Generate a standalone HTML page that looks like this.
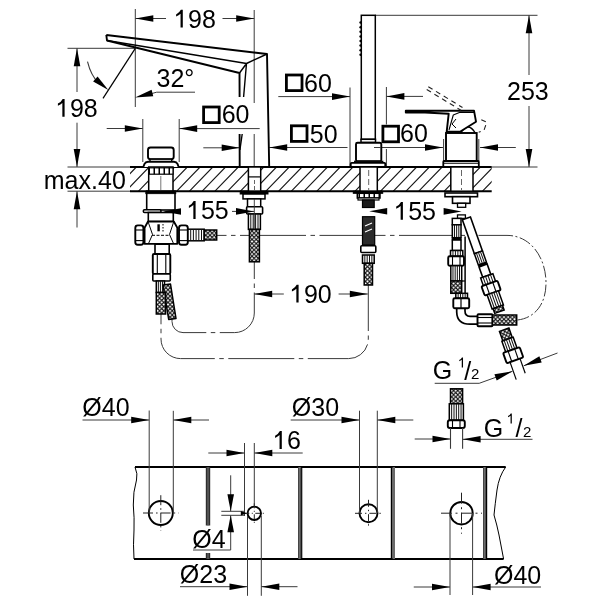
<!DOCTYPE html>
<html><head><meta charset="utf-8"><style>
html,body{margin:0;padding:0;background:#fff;width:600px;height:600px;overflow:hidden}
svg{display:block;will-change:transform}
text{font-family:"Liberation Sans",sans-serif;fill:#000}
</style></head><body>
<svg width="600" height="600" viewBox="0 0 600 600">
<defs>
<pattern id="braid" width="4.2" height="4.2" patternUnits="userSpaceOnUse">
<rect width="4.2" height="4.2" fill="#fff"/>
<path d="M-1,-1 L5.2,5.2 M5.2,-1 L-1,5.2" stroke="#111" stroke-width="1.05"/>
</pattern>
<pattern id="thread" width="5" height="5" patternUnits="userSpaceOnUse">
<rect width="5" height="5" fill="#fff"/>
<rect x="3.5" width="1.5" height="5" fill="#000"/>
</pattern>
</defs>
<line x1="135.30" y1="9.00" x2="135.30" y2="107.00" stroke="#3a3a3a" stroke-width="1.0" />
<line x1="254.20" y1="10.00" x2="254.20" y2="103.00" stroke="#3a3a3a" stroke-width="1.0" />
<line x1="254.20" y1="134.00" x2="254.20" y2="167.00" stroke="#3a3a3a" stroke-width="1.0" />
<line x1="135.30" y1="18.50" x2="166.00" y2="18.50" stroke="#3a3a3a" stroke-width="1.0" />
<path d="M135.30,18.50 L153.30,15.20 L153.30,21.80 Z" fill="#000"/>
<line x1="222.50" y1="18.50" x2="254.20" y2="18.50" stroke="#3a3a3a" stroke-width="1.0" />
<path d="M254.20,18.50 L236.20,21.80 L236.20,15.20 Z" fill="#000"/>
<text x="174.20" y="27.60" font-size="25"><tspan fill="transparent">1</tspan>98</text>
<path d="M8.6,-17.9 L8.6,0 L6.35,0 L6.35,-13.9 Q4.6,-12.2 1.9,-11.1 L1.9,-13.2 Q5.2,-14.9 6.7,-17.9 Z" fill="#000" transform="translate(174.20,27.60) scale(1.000)"/>
<line x1="67.50" y1="48.30" x2="135.30" y2="48.30" stroke="#3a3a3a" stroke-width="1.0" />
<line x1="77.00" y1="48.30" x2="77.00" y2="92.00" stroke="#3a3a3a" stroke-width="1.0" />
<path d="M77.00,48.30 L80.30,66.30 L73.70,66.30 Z" fill="#000"/>
<text x="56.00" y="116.80" font-size="25"><tspan fill="transparent">1</tspan>98</text>
<path d="M8.6,-17.9 L8.6,0 L6.35,0 L6.35,-13.9 Q4.6,-12.2 1.9,-11.1 L1.9,-13.2 Q5.2,-14.9 6.7,-17.9 Z" fill="#000" transform="translate(56.00,116.80) scale(1.000)"/>
<line x1="77.00" y1="122.70" x2="77.00" y2="167.00" stroke="#3a3a3a" stroke-width="1.0" />
<path d="M77.00,167.00 L73.70,149.00 L80.30,149.00 Z" fill="#000"/>
<line x1="67.50" y1="167.00" x2="131.00" y2="167.00" stroke="#3a3a3a" stroke-width="1.0" />
<line x1="67.50" y1="191.20" x2="131.00" y2="191.20" stroke="#3a3a3a" stroke-width="1.0" />
<line x1="77.00" y1="191.20" x2="77.00" y2="227.50" stroke="#3a3a3a" stroke-width="1.0" />
<path d="M77.00,191.20 L80.30,209.20 L73.70,209.20 Z" fill="#000"/>
<text x="43.80" y="188.80" font-size="25">max.40</text>
<line x1="135.30" y1="48.30" x2="103.00" y2="98.30" stroke="#000" stroke-width="1.2" />
<path d="M87.5,61.7 Q91,76 99,83.5" stroke="#3a3a3a" stroke-width="1.1" fill="none" stroke-linejoin="round" />
<path d="M108.30,90.00 L93.15,81.58 L97.55,76.40 Z" fill="#000"/>
<line x1="156.70" y1="92.20" x2="195.00" y2="92.20" stroke="#3a3a3a" stroke-width="1.0" />
<line x1="156.70" y1="92.20" x2="150.00" y2="94.00" stroke="#3a3a3a" stroke-width="1.0" />
<path d="M135.00,97.50 L151.59,89.78 L153.25,96.16 Z" fill="#000"/>
<text x="156.50" y="86.70" font-size="25">32°</text>
<line x1="142.80" y1="119.00" x2="142.80" y2="162.00" stroke="#3a3a3a" stroke-width="1.0" />
<line x1="179.20" y1="119.00" x2="179.20" y2="162.00" stroke="#3a3a3a" stroke-width="1.0" />
<line x1="106.70" y1="128.50" x2="142.80" y2="128.50" stroke="#3a3a3a" stroke-width="1.0" />
<path d="M142.80,128.50 L124.80,131.80 L124.80,125.20 Z" fill="#000"/>
<line x1="179.20" y1="128.60" x2="259.70" y2="128.60" stroke="#3a3a3a" stroke-width="1.0" />
<path d="M179.20,128.60 L197.20,125.30 L197.20,131.90 Z" fill="#000"/>
<rect x="203.60" y="107.00" width="15.60" height="15.60" rx="0" stroke="#000" stroke-width="2.8" fill="none" />
<text x="221.70" y="123.40" font-size="25">60</text>
<line x1="203.30" y1="147.80" x2="239.70" y2="147.80" stroke="#3a3a3a" stroke-width="1.0" />
<path d="M239.70,147.80 L221.70,151.10 L221.70,144.50 Z" fill="#000"/>
<line x1="269.20" y1="147.50" x2="347.50" y2="147.50" stroke="#3a3a3a" stroke-width="1.0" />
<path d="M269.20,147.50 L287.20,144.20 L287.20,150.80 Z" fill="#000"/>
<rect x="291.40" y="125.80" width="15.60" height="15.60" rx="0" stroke="#000" stroke-width="2.8" fill="none" />
<text x="309.80" y="142.50" font-size="25">50</text>
<line x1="350.00" y1="87.50" x2="350.00" y2="167.00" stroke="#3a3a3a" stroke-width="1.0" />
<line x1="386.40" y1="87.00" x2="386.40" y2="124.50" stroke="#3a3a3a" stroke-width="1.0" />
<line x1="386.40" y1="149.00" x2="386.40" y2="167.00" stroke="#3a3a3a" stroke-width="1.0" />
<line x1="278.30" y1="96.60" x2="350.00" y2="96.60" stroke="#3a3a3a" stroke-width="1.0" />
<path d="M350.00,96.60 L332.00,99.90 L332.00,93.30 Z" fill="#000"/>
<line x1="386.40" y1="96.40" x2="423.00" y2="96.40" stroke="#3a3a3a" stroke-width="1.0" />
<path d="M386.40,96.40 L404.40,93.10 L404.40,99.70 Z" fill="#000"/>
<rect x="286.40" y="75.00" width="15.60" height="15.60" rx="0" stroke="#000" stroke-width="2.8" fill="none" />
<text x="304.00" y="91.50" font-size="25">60</text>
<line x1="376.00" y1="147.50" x2="443.00" y2="147.50" stroke="#3a3a3a" stroke-width="1.0" />
<path d="M443.00,147.50 L425.00,150.80 L425.00,144.20 Z" fill="#000"/>
<line x1="480.00" y1="147.50" x2="515.80" y2="147.50" stroke="#3a3a3a" stroke-width="1.0" />
<path d="M480.00,147.50 L498.00,144.20 L498.00,150.80 Z" fill="#000"/>
<rect x="382.90" y="126.20" width="15.60" height="15.60" rx="0" stroke="#000" stroke-width="2.8" fill="none" />
<text x="400.00" y="142.40" font-size="25">60</text>
<line x1="375.00" y1="15.30" x2="537.50" y2="15.30" stroke="#3a3a3a" stroke-width="1.0" />
<line x1="529.00" y1="15.30" x2="529.00" y2="75.00" stroke="#3a3a3a" stroke-width="1.0" />
<path d="M529.00,15.30 L532.30,33.30 L525.70,33.30 Z" fill="#000"/>
<text x="507.00" y="100.20" font-size="25">253</text>
<line x1="529.00" y1="106.00" x2="529.00" y2="167.00" stroke="#3a3a3a" stroke-width="1.0" />
<path d="M529.00,167.00 L525.70,149.00 L532.30,149.00 Z" fill="#000"/>
<line x1="491.70" y1="167.00" x2="537.50" y2="167.00" stroke="#3a3a3a" stroke-width="1.0" />
<text x="187.00" y="219.00" font-size="25"><tspan fill="transparent">1</tspan>55</text>
<path d="M8.6,-17.9 L8.6,0 L6.35,0 L6.35,-13.9 Q4.6,-12.2 1.9,-11.1 L1.9,-13.2 Q5.2,-14.9 6.7,-17.9 Z" fill="#000" transform="translate(187.00,219.00) scale(1.000)"/>
<text x="394.30" y="219.80" font-size="25"><tspan fill="transparent">1</tspan>55</text>
<path d="M8.6,-17.9 L8.6,0 L6.35,0 L6.35,-13.9 Q4.6,-12.2 1.9,-11.1 L1.9,-13.2 Q5.2,-14.9 6.7,-17.9 Z" fill="#000" transform="translate(394.30,219.80) scale(1.000)"/>
<line x1="254.20" y1="294.00" x2="283.80" y2="294.00" stroke="#3a3a3a" stroke-width="1.0" />
<path d="M254.20,294.00 L272.20,290.70 L272.20,297.30 Z" fill="#000"/>
<text x="290.00" y="302.60" font-size="25"><tspan fill="transparent">1</tspan>90</text>
<path d="M8.6,-17.9 L8.6,0 L6.35,0 L6.35,-13.9 Q4.6,-12.2 1.9,-11.1 L1.9,-13.2 Q5.2,-14.9 6.7,-17.9 Z" fill="#000" transform="translate(290.00,302.60) scale(1.000)"/>
<line x1="338.60" y1="294.00" x2="367.80" y2="294.00" stroke="#3a3a3a" stroke-width="1.0" />
<path d="M367.80,294.00 L349.80,297.30 L349.80,290.70 Z" fill="#000"/>
<path d="M216.7,235.4 L507,235.4" stroke="#3a3a3a" stroke-width="1.0" fill="none" stroke-dasharray="66,4.5,4.5,4.5" stroke-dashoffset="56.2"/>
<path d="M507,235.4 C531,235.4 546,258 546,283 C546,304 535,318 517.5,320" stroke="#3a3a3a" stroke-width="1.0" fill="none" stroke-dasharray="12,2.5,2,2.5" stroke-dashoffset="6"/>
<path d="M254.3,262 L254.3,313 A19.6,19.6 0 0 1 234.7,332.6 L183,332.6 A11,11 0 0 1 172,321.6 L172,319" stroke="#3a3a3a" stroke-width="1.0" fill="none" stroke-dasharray="66,4.5,4.5,4.5" stroke-dashoffset="49"/>
<path d="M368.3,285 L368.3,339 A19.6,19.6 0 0 1 348.7,358.6 L180.6,358.6 A19.6,19.6 0 0 1 161,339 L161,314" stroke="#3a3a3a" stroke-width="1.0" fill="none" stroke-dasharray="66,4.5,4.5,4.5" stroke-dashoffset="20"/>
<clipPath id="deckclip"><rect x="130" y="167" width="361.7" height="24.2"/></clipPath>
<path d="M100.31,191.2 L123.61,167 M113.05,191.2 L136.35,167 M125.79,191.2 L149.09,167 M138.53,191.2 L161.83,167 M151.27,191.2 L174.57,167 M164.01,191.2 L187.31,167 M176.75,191.2 L200.05,167 M189.49,191.2 L212.79,167 M202.23,191.2 L225.53,167 M214.97,191.2 L238.27,167 M227.71,191.2 L251.01,167 M240.45,191.2 L263.75,167 M253.19,191.2 L276.49,167 M265.93,191.2 L289.23,167 M278.67,191.2 L301.97,167 M291.41,191.2 L314.71,167 M304.15,191.2 L327.45,167 M316.89,191.2 L340.19,167 M329.63,191.2 L352.93,167 M342.37,191.2 L365.67,167 M355.11,191.2 L378.41,167 M367.85,191.2 L391.15,167 M380.59,191.2 L403.89,167 M393.33,191.2 L416.63,167 M406.07,191.2 L429.37,167 M418.81,191.2 L442.11,167 M431.55,191.2 L454.85,167 M444.29,191.2 L467.59,167 M457.03,191.2 L480.33,167 M469.77,191.2 L493.07,167 M482.51,191.2 L505.81,167 M495.25,191.2 L518.55,167 M507.99,191.2 L531.29,167 M520.73,191.2 L544.03,167 M533.47,191.2 L556.77,167 M546.21,191.2 L569.51,167" stroke="#1a1a1a" stroke-width="1.15" clip-path="url(#deckclip)"/>
<line x1="130.00" y1="167.00" x2="491.70" y2="167.00" stroke="#000" stroke-width="1.9" />
<line x1="130.00" y1="191.20" x2="491.70" y2="191.20" stroke="#000" stroke-width="1.9" />
<path d="M106.3,35 L267,54 L269.2,167 M239.7,167 L239.6,134 M239.6,97 L239.5,73 L107,40.5 L106.3,35" stroke="#000" stroke-width="1.9" fill="none" stroke-linejoin="round" />
<path d="M107,40.5 L246.5,63.5 L267,54 M239.5,73 L246.5,63.5 L243.6,97 M242.2,134 L239.9,150" stroke="#000" stroke-width="1.4" fill="none" stroke-linejoin="round" />
<rect x="248.40" y="167.00" width="12.30" height="24.20" rx="0" stroke="#000" stroke-width="1.5" fill="#fff" />
<line x1="248.40" y1="176.90" x2="260.70" y2="176.90" stroke="#000" stroke-width="1.2" />
<line x1="254.50" y1="180.00" x2="254.50" y2="190.00" stroke="#666" stroke-width="1" stroke-dasharray="4,2"/>
<rect x="240.20" y="191.20" width="27.80" height="2.80" rx="0" stroke="#000" stroke-width="1.0" fill="#000" />
<rect x="243.00" y="194.00" width="22.00" height="4.90" rx="0" stroke="#000" stroke-width="1.5" fill="#fff" />
<rect x="247.50" y="198.90" width="13.20" height="7.90" rx="0" stroke="#000" stroke-width="1.5" fill="#fff" />
<rect x="246.60" y="206.80" width="16.00" height="7.20" rx="1" stroke="#000" stroke-width="1.6" fill="#fff" />
<rect x="248.40" y="214.00" width="12.00" height="15.40" rx="0" stroke="#000" stroke-width="1.5" fill="#fff" />
<line x1="250.80" y1="214.00" x2="250.80" y2="229.40" stroke="#111" stroke-width="1.0" />
<line x1="253.20" y1="214.00" x2="253.20" y2="229.40" stroke="#111" stroke-width="1.0" />
<line x1="255.60" y1="214.00" x2="255.60" y2="229.40" stroke="#111" stroke-width="1.0" />
<line x1="258.00" y1="214.00" x2="258.00" y2="229.40" stroke="#111" stroke-width="1.0" />
<rect x="249.40" y="229.40" width="10.00" height="32.40" rx="0" stroke="#000" stroke-width="1.5" fill="url(#braid)" />
<rect x="148.00" y="147.50" width="25.70" height="11.70" rx="2.5" stroke="#000" stroke-width="1.9" fill="#fff" />
<rect x="150.00" y="159.20" width="21.70" height="2.50" rx="0" stroke="#000" stroke-width="1.4" fill="#fff" />
<path d="M143.3,167 L144.5,163.8 Q145.5,161.7 148,161.7 L174,161.7 Q176.5,161.7 177.5,163.8 L178.7,167" stroke="#000" stroke-width="1.9" fill="#fff" stroke-linejoin="round" />
<rect x="148.70" y="167.00" width="24.30" height="24.20" rx="0" stroke="#000" stroke-width="1.5" fill="#fff" />
<rect x="148.70" y="167.80" width="24.30" height="6.40" rx="0" stroke="#000" stroke-width="1.2" fill="url(#thread)" />
<line x1="160.80" y1="176.00" x2="160.80" y2="250.00" stroke="#777" stroke-width="1" />
<rect x="146.70" y="191.20" width="28.30" height="18.80" rx="0" stroke="#000" stroke-width="1.6" fill="#fff" />
<rect x="145.80" y="191.20" width="30.00" height="2.50" rx="0" stroke="#000" stroke-width="0.8" fill="#000" />
<rect x="143.30" y="209.70" width="17.70" height="2.80" rx="1.2" stroke="#000" stroke-width="1.5" fill="#fff" />
<rect x="148.30" y="212.50" width="25.00" height="9.20" rx="0" stroke="#000" stroke-width="1.6" fill="#fff" />
<path d="M148,221.5 L173.8,221.5 L177.3,227.7 L177.3,243.8 L144.6,243.8 L144.6,227.7 Z" stroke="#000" stroke-width="1.8" fill="#fff" stroke-linejoin="round" />
<path d="M148,221.5 L152.5,234.5 L148.5,243.5 M173.8,221.5 L169.5,234.5 L173.5,243.5" stroke="#000" stroke-width="1.0" fill="none" stroke-linejoin="round" />
<line x1="152.00" y1="235.30" x2="170.00" y2="235.30" stroke="#000" stroke-width="1.0" stroke-dasharray="3,1.5"/>
<rect x="157.40" y="224.30" width="2.40" height="7.00" rx="0" stroke="#000" stroke-width="0" fill="#000" />
<line x1="163.00" y1="224.00" x2="163.00" y2="232.00" stroke="#000" stroke-width="1" stroke-dasharray="1.5,1.5"/>
<rect x="135.30" y="225.40" width="8.10" height="19.30" rx="2.5" stroke="#000" stroke-width="1.9" fill="#fff" />
<line x1="135.30" y1="230.00" x2="143.40" y2="230.00" stroke="#000" stroke-width="1.1" />
<line x1="135.30" y1="240.60" x2="143.40" y2="240.60" stroke="#000" stroke-width="1.1" />
<rect x="179.00" y="225.40" width="8.80" height="19.30" rx="2.5" stroke="#000" stroke-width="1.9" fill="#fff" />
<line x1="179.00" y1="230.00" x2="187.80" y2="230.00" stroke="#000" stroke-width="1.1" />
<line x1="179.00" y1="240.60" x2="187.80" y2="240.60" stroke="#000" stroke-width="1.1" />
<rect x="188.00" y="229.20" width="16.20" height="11.60" rx="0" stroke="#000" stroke-width="1.5" fill="#fff" />
<line x1="190.70" y1="229.20" x2="190.70" y2="240.80" stroke="#111" stroke-width="1.0" />
<line x1="193.40" y1="229.20" x2="193.40" y2="240.80" stroke="#111" stroke-width="1.0" />
<line x1="196.10" y1="229.20" x2="196.10" y2="240.80" stroke="#111" stroke-width="1.0" />
<line x1="198.80" y1="229.20" x2="198.80" y2="240.80" stroke="#111" stroke-width="1.0" />
<line x1="201.50" y1="229.20" x2="201.50" y2="240.80" stroke="#111" stroke-width="1.0" />
<rect x="204.20" y="230.00" width="12.50" height="10.00" rx="0" stroke="#000" stroke-width="1.5" fill="url(#braid)" />
<rect x="155.00" y="244.20" width="14.20" height="9.80" rx="0" stroke="#000" stroke-width="1.6" fill="#fff" />
<rect x="152.80" y="254.00" width="17.50" height="20.00" rx="1.2" stroke="#000" stroke-width="1.9" fill="#fff" />
<line x1="157.30" y1="254.00" x2="157.30" y2="274.00" stroke="#000" stroke-width="1.1" />
<line x1="165.80" y1="254.00" x2="165.80" y2="274.00" stroke="#000" stroke-width="1.1" />
<rect x="152.80" y="274.00" width="17.50" height="7.00" rx="1" stroke="#000" stroke-width="1.6" fill="#fff" />
<rect x="156.30" y="281.00" width="8.20" height="11.50" rx="0" stroke="#000" stroke-width="1.5" fill="#fff" />
<line x1="158.35" y1="281.00" x2="158.35" y2="292.50" stroke="#111" stroke-width="1.0" />
<line x1="160.40" y1="281.00" x2="160.40" y2="292.50" stroke="#111" stroke-width="1.0" />
<line x1="162.45" y1="281.00" x2="162.45" y2="292.50" stroke="#111" stroke-width="1.0" />
<path d="M163.00,285.00 L170.50,284.00 L176.00,318.50 L168.70,319.50 Z" stroke="#000" stroke-width="1.5" fill="url(#braid)" stroke-linejoin="round" />
<rect x="156.30" y="292.50" width="9.30" height="21.50" rx="0" stroke="#000" stroke-width="1.5" fill="url(#braid)" />
<rect x="361.30" y="15.30" width="14.00" height="124.00" rx="0" stroke="#000" stroke-width="1.5" fill="#fff" />
<circle cx="360.6" cy="22.60" r="1.25" fill="#000"/>
<circle cx="360.6" cy="27.20" r="1.25" fill="#000"/>
<circle cx="360.6" cy="31.80" r="1.25" fill="#000"/>
<circle cx="360.6" cy="36.40" r="1.25" fill="#000"/>
<circle cx="360.6" cy="41.00" r="1.25" fill="#000"/>
<circle cx="360.6" cy="45.60" r="1.25" fill="#000"/>
<circle cx="360.6" cy="50.20" r="1.25" fill="#000"/>
<circle cx="360.6" cy="54.80" r="1.25" fill="#000"/>
<rect x="361.00" y="139.30" width="14.50" height="3.20" rx="0" stroke="#000" stroke-width="1.5" fill="#fff" />
<rect x="356.00" y="142.70" width="25.30" height="18.60" rx="1.5" stroke="#000" stroke-width="1.9" fill="#fff" />
<line x1="374.00" y1="147.50" x2="381.00" y2="147.50" stroke="#3a3a3a" stroke-width="1.0" />
<rect x="354.70" y="161.30" width="28.00" height="1.60" rx="0" stroke="#000" stroke-width="1.3" fill="#fff" />
<rect x="350.70" y="162.90" width="34.60" height="4.10" rx="1" stroke="#000" stroke-width="1.9" fill="#fff" />
<rect x="360.00" y="167.00" width="17.30" height="24.20" rx="0" stroke="#000" stroke-width="1.5" fill="#fff" />
<line x1="368.70" y1="170.00" x2="368.70" y2="190.00" stroke="#666" stroke-width="1" stroke-dasharray="6,3"/>
<rect x="353.30" y="191.20" width="29.40" height="2.10" rx="0" stroke="#000" stroke-width="1.0" fill="#000" />
<rect x="357.30" y="193.30" width="22.70" height="4.70" rx="0" stroke="#000" stroke-width="1.5" fill="url(#thread)" />
<rect x="358.00" y="198.00" width="21.00" height="2.00" rx="0" stroke="#000" stroke-width="1.2" fill="#fff" />
<rect x="362.50" y="200.00" width="11.70" height="7.50" rx="0" stroke="#000" stroke-width="1.2" fill="#1a1a1a" />
<rect x="362.50" y="216.70" width="12.20" height="28.30" rx="0" stroke="#000" stroke-width="1.2" fill="#2a2a2a" />
<path d="M365,226 L372,223 M365,232 L372,229" stroke="#fff" stroke-width="1.1" fill="none" stroke-linejoin="round" />
<rect x="360.80" y="245.80" width="15.00" height="6.70" rx="1" stroke="#000" stroke-width="1.6" fill="#fff" />
<rect x="362.50" y="255.00" width="11.70" height="8.30" rx="0" stroke="#000" stroke-width="1.5" fill="#fff" />
<line x1="364.84" y1="255.00" x2="364.84" y2="263.30" stroke="#111" stroke-width="1.0" />
<line x1="367.18" y1="255.00" x2="367.18" y2="263.30" stroke="#111" stroke-width="1.0" />
<line x1="369.52" y1="255.00" x2="369.52" y2="263.30" stroke="#111" stroke-width="1.0" />
<line x1="371.86" y1="255.00" x2="371.86" y2="263.30" stroke="#111" stroke-width="1.0" />
<rect x="364.20" y="263.30" width="8.30" height="21.70" rx="0" stroke="#000" stroke-width="1.5" fill="url(#braid)" />
<rect x="446.00" y="133.00" width="30.70" height="28.00" rx="0" stroke="#000" stroke-width="1.9" fill="#fff" />
<line x1="443.60" y1="139.00" x2="443.60" y2="161.00" stroke="#3a3a3a" stroke-width="1.0" />
<line x1="478.80" y1="139.00" x2="478.80" y2="161.00" stroke="#3a3a3a" stroke-width="1.0" />
<rect x="443.30" y="161.00" width="35.50" height="6.00" rx="0.8" stroke="#000" stroke-width="1.8" fill="#fff" />
<line x1="444.00" y1="163.30" x2="478.00" y2="163.30" stroke="#000" stroke-width="1.1" />
<path d="M460.7,133 Q468,121 475.3,133" stroke="#000" stroke-width="1.3" fill="none" stroke-linejoin="round" />
<path d="M405.80,110.70 L474.00,110.70 L476.00,121.70 L460.00,131.70 L446.70,131.70 L448.70,113.70 L425.00,112.50 L405.80,112.60 Z" stroke="#000" stroke-width="1.9" fill="#fff" stroke-linejoin="round" />
<path d="M449,130 L453.3,115 L460,112.3 L474,112.5" stroke="#000" stroke-width="1.1" fill="none" stroke-linejoin="round" />
<line x1="452.00" y1="124.00" x2="456.00" y2="128.00" stroke="#000" stroke-width="1.0" />
<line x1="452.00" y1="124.00" x2="456.00" y2="119.00" stroke="#000" stroke-width="1.0" />
<path d="M428.3,86.7 L462.5,107.5 M426.7,89.5 L461,110.3 M481.3,119.7 L486.7,122.3 L484,130.3 L478.7,132.3" stroke="#222" stroke-width="1.1" fill="none" stroke-dasharray="5,4"/>
<rect x="450.80" y="167.00" width="22.20" height="24.20" rx="0" stroke="#000" stroke-width="1.5" fill="#fff" />
<line x1="461.50" y1="170.00" x2="461.50" y2="190.00" stroke="#666" stroke-width="1" stroke-dasharray="6,3"/>
<rect x="445.00" y="193.00" width="32.50" height="3.70" rx="0" stroke="#000" stroke-width="1.6" fill="#fff" />
<rect x="452.50" y="196.70" width="17.50" height="6.60" rx="0" stroke="#000" stroke-width="1.6" fill="#fff" />
<rect x="457.50" y="203.30" width="8.20" height="4.00" rx="0" stroke="#000" stroke-width="1.3" fill="#fff" />
<rect x="457.50" y="214.90" width="7.90" height="3.50" rx="0" stroke="#000" stroke-width="1.3" fill="#fff" />
<rect x="452.30" y="218.40" width="8.70" height="6.40" rx="0" stroke="#000" stroke-width="1.5" fill="#fff" />
<rect x="452.30" y="224.80" width="8.70" height="12.90" rx="0" stroke="#000" stroke-width="1.5" fill="#fff" />
<line x1="454.48" y1="224.80" x2="454.48" y2="237.70" stroke="#111" stroke-width="1.0" />
<line x1="456.65" y1="224.80" x2="456.65" y2="237.70" stroke="#111" stroke-width="1.0" />
<line x1="458.82" y1="224.80" x2="458.82" y2="237.70" stroke="#111" stroke-width="1.0" />
<rect x="452.30" y="237.70" width="8.70" height="2.30" rx="0" stroke="#000" stroke-width="1.0" fill="#000" />
<rect x="452.30" y="240.00" width="8.70" height="10.50" rx="0" stroke="#000" stroke-width="1.5" fill="#fff" />
<rect x="450.50" y="250.50" width="12.30" height="5.80" rx="0" stroke="#000" stroke-width="1.5" fill="#fff" />
<line x1="452.96" y1="250.50" x2="452.96" y2="256.30" stroke="#111" stroke-width="1.0" />
<line x1="455.42" y1="250.50" x2="455.42" y2="256.30" stroke="#111" stroke-width="1.0" />
<line x1="457.88" y1="250.50" x2="457.88" y2="256.30" stroke="#111" stroke-width="1.0" />
<line x1="460.34" y1="250.50" x2="460.34" y2="256.30" stroke="#111" stroke-width="1.0" />
<rect x="448.20" y="256.30" width="15.80" height="9.40" rx="1.5" stroke="#000" stroke-width="1.9" fill="#fff" />
<line x1="452.50" y1="256.30" x2="452.50" y2="265.70" stroke="#000" stroke-width="1.1" />
<line x1="460.00" y1="256.30" x2="460.00" y2="265.70" stroke="#000" stroke-width="1.1" />
<rect x="450.80" y="265.70" width="10.90" height="15.30" rx="0" stroke="#000" stroke-width="1.5" fill="#fff" />
<line x1="452.98" y1="265.70" x2="452.98" y2="281.00" stroke="#111" stroke-width="1.0" />
<line x1="455.16" y1="265.70" x2="455.16" y2="281.00" stroke="#111" stroke-width="1.0" />
<line x1="457.34" y1="265.70" x2="457.34" y2="281.00" stroke="#111" stroke-width="1.0" />
<line x1="459.52" y1="265.70" x2="459.52" y2="281.00" stroke="#111" stroke-width="1.0" />
<rect x="450.80" y="281.00" width="10.90" height="12.30" rx="0" stroke="#000" stroke-width="1.5" fill="url(#braid)" />
<line x1="465.10" y1="236.50" x2="465.10" y2="293.30" stroke="#000" stroke-width="1.5" />
<line x1="461.70" y1="281.00" x2="465.10" y2="281.00" stroke="#000" stroke-width="1.2" />
<rect x="455.80" y="293.30" width="11.70" height="5.00" rx="0" stroke="#000" stroke-width="1.5" fill="#fff" />
<line x1="458.14" y1="293.30" x2="458.14" y2="298.30" stroke="#111" stroke-width="1.0" />
<line x1="460.48" y1="293.30" x2="460.48" y2="298.30" stroke="#111" stroke-width="1.0" />
<line x1="462.82" y1="293.30" x2="462.82" y2="298.30" stroke="#111" stroke-width="1.0" />
<line x1="465.16" y1="293.30" x2="465.16" y2="298.30" stroke="#111" stroke-width="1.0" />
<rect x="453.30" y="298.30" width="15.90" height="10.00" rx="1.5" stroke="#000" stroke-width="1.9" fill="#fff" />
<line x1="461.00" y1="298.30" x2="461.00" y2="308.30" stroke="#000" stroke-width="1.2" />
<path d="M456.7,308.3 L456.7,312 Q457,324.2 470,324.2 L477.5,324.2 M465,308.3 L465,311 Q465,316.3 470,316.3 L477.5,316.3" stroke="#000" stroke-width="1.7" fill="none" stroke-linejoin="round" />
<rect x="477.50" y="314.20" width="15.00" height="12.10" rx="1" stroke="#000" stroke-width="1.9" fill="#fff" />
<line x1="477.50" y1="317.50" x2="492.50" y2="317.50" stroke="#000" stroke-width="1.1" />
<line x1="477.50" y1="323.00" x2="492.50" y2="323.00" stroke="#000" stroke-width="1.1" />
<rect x="492.50" y="315.00" width="24.20" height="10.00" rx="0" stroke="#000" stroke-width="1.5" fill="url(#braid)" />
<g transform="translate(466.4,218.4) rotate(-19.5)">
<rect x="-4.30" y="0.00" width="8.60" height="36.00" rx="0" stroke="#000" stroke-width="1.6" fill="#fff" />
<rect x="-4.30" y="36.00" width="8.60" height="12.00" rx="0" stroke="#000" stroke-width="1.5" fill="#fff" />
<line x1="-2.15" y1="36.00" x2="-2.15" y2="48.00" stroke="#111" stroke-width="1.0" />
<line x1="0.00" y1="36.00" x2="0.00" y2="48.00" stroke="#111" stroke-width="1.0" />
<line x1="2.15" y1="36.00" x2="2.15" y2="48.00" stroke="#111" stroke-width="1.0" />
<rect x="-4.30" y="48.00" width="8.60" height="2.00" rx="0" stroke="#000" stroke-width="0.8" fill="#000" />
<rect x="-4.30" y="50.00" width="8.60" height="11.00" rx="0" stroke="#000" stroke-width="1.6" fill="#fff" />
<rect x="-6.50" y="61.00" width="13.00" height="8.00" rx="0" stroke="#000" stroke-width="1.5" fill="#fff" />
<line x1="-3.90" y1="61.00" x2="-3.90" y2="69.00" stroke="#111" stroke-width="1.0" />
<line x1="-1.30" y1="61.00" x2="-1.30" y2="69.00" stroke="#111" stroke-width="1.0" />
<line x1="1.30" y1="61.00" x2="1.30" y2="69.00" stroke="#111" stroke-width="1.0" />
<line x1="3.90" y1="61.00" x2="3.90" y2="69.00" stroke="#111" stroke-width="1.0" />
<rect x="-8.50" y="69.00" width="17.00" height="10.00" rx="1.5" stroke="#000" stroke-width="1.9" fill="#fff" />
<line x1="-3.50" y1="69.00" x2="-3.50" y2="79.00" stroke="#000" stroke-width="1.1" />
<line x1="3.50" y1="69.00" x2="3.50" y2="79.00" stroke="#000" stroke-width="1.1" />
<rect x="-6.00" y="79.00" width="12.00" height="15.00" rx="0" stroke="#000" stroke-width="1.5" fill="#fff" />
<line x1="-3.60" y1="79.00" x2="-3.60" y2="94.00" stroke="#111" stroke-width="1.0" />
<line x1="-1.20" y1="79.00" x2="-1.20" y2="94.00" stroke="#111" stroke-width="1.0" />
<line x1="1.20" y1="79.00" x2="1.20" y2="94.00" stroke="#111" stroke-width="1.0" />
<line x1="3.60" y1="79.00" x2="3.60" y2="94.00" stroke="#111" stroke-width="1.0" />
<rect x="-5.00" y="94.00" width="10.00" height="5.00" rx="0" stroke="#000" stroke-width="1.5" fill="url(#braid)" />
</g>
<g transform="translate(513.2,355.2) rotate(-19.5)">
<rect x="-5.00" y="-27.00" width="10.00" height="10.00" rx="0" stroke="#000" stroke-width="1.5" fill="url(#braid)" />
<rect x="-6.00" y="-17.00" width="12.00" height="11.50" rx="0" stroke="#000" stroke-width="1.5" fill="#fff" />
<line x1="-3.60" y1="-17.00" x2="-3.60" y2="-5.50" stroke="#111" stroke-width="1.0" />
<line x1="-1.20" y1="-17.00" x2="-1.20" y2="-5.50" stroke="#111" stroke-width="1.0" />
<line x1="1.20" y1="-17.00" x2="1.20" y2="-5.50" stroke="#111" stroke-width="1.0" />
<line x1="3.60" y1="-17.00" x2="3.60" y2="-5.50" stroke="#111" stroke-width="1.0" />
<rect x="-8.80" y="-5.50" width="17.60" height="11.00" rx="1.5" stroke="#000" stroke-width="1.9" fill="#fff" />
<line x1="-3.50" y1="-5.50" x2="-3.50" y2="5.50" stroke="#000" stroke-width="1.1" />
<line x1="3.50" y1="-5.50" x2="3.50" y2="5.50" stroke="#000" stroke-width="1.1" />
<line x1="-5.30" y1="5.50" x2="-5.30" y2="24.00" stroke="#000" stroke-width="1.2" />
<line x1="5.30" y1="5.50" x2="5.30" y2="21.00" stroke="#000" stroke-width="1.2" />
</g>
<line x1="434.70" y1="383.30" x2="479.20" y2="383.30" stroke="#3a3a3a" stroke-width="1.0" />
<line x1="479.20" y1="383.30" x2="512.50" y2="371.30" stroke="#3a3a3a" stroke-width="1.0" />
<path d="M512.50,371.30 L496.68,380.50 L494.45,374.29 Z" fill="#000"/>
<line x1="523.70" y1="365.80" x2="557.50" y2="353.00" stroke="#3a3a3a" stroke-width="1.0" />
<path d="M523.70,365.80 L539.35,356.32 L541.70,362.49 Z" fill="#000"/>
<text x="432.70" y="378.60" font-size="25">G</text>
<text x="458.20" y="367.50" font-size="14"><tspan fill="transparent">1</tspan></text>
<path d="M8.6,-17.9 L8.6,0 L6.35,0 L6.35,-13.9 Q4.6,-12.2 1.9,-11.1 L1.9,-13.2 Q5.2,-14.9 6.7,-17.9 Z" fill="#000" transform="translate(458.20,367.50) scale(0.560)"/>
<text x="464.20" y="380.00" font-size="25">/</text>
<text x="471.00" y="379.40" font-size="15">2</text>
<rect x="450.50" y="388.80" width="12.10" height="15.00" rx="0" stroke="#000" stroke-width="1.5" fill="url(#braid)" />
<rect x="449.30" y="403.80" width="14.10" height="16.50" rx="0" stroke="#000" stroke-width="1.5" fill="#fff" />
<line x1="451.65" y1="403.80" x2="451.65" y2="420.30" stroke="#111" stroke-width="1.0" />
<line x1="454.00" y1="403.80" x2="454.00" y2="420.30" stroke="#111" stroke-width="1.0" />
<line x1="456.35" y1="403.80" x2="456.35" y2="420.30" stroke="#111" stroke-width="1.0" />
<line x1="458.70" y1="403.80" x2="458.70" y2="420.30" stroke="#111" stroke-width="1.0" />
<line x1="461.05" y1="403.80" x2="461.05" y2="420.30" stroke="#111" stroke-width="1.0" />
<rect x="447.80" y="420.30" width="17.00" height="7.70" rx="2" stroke="#000" stroke-width="1.9" fill="#fff" />
<line x1="452.50" y1="420.30" x2="452.50" y2="428.00" stroke="#000" stroke-width="1.1" />
<line x1="460.00" y1="420.30" x2="460.00" y2="428.00" stroke="#000" stroke-width="1.1" />
<line x1="450.50" y1="428.00" x2="450.50" y2="448.80" stroke="#3a3a3a" stroke-width="1.1" />
<line x1="462.60" y1="428.00" x2="462.60" y2="448.80" stroke="#3a3a3a" stroke-width="1.1" />
<line x1="414.70" y1="439.00" x2="450.50" y2="439.00" stroke="#3a3a3a" stroke-width="1.0" />
<path d="M450.50,439.00 L432.50,442.30 L432.50,435.70 Z" fill="#000"/>
<line x1="462.60" y1="439.30" x2="532.50" y2="439.30" stroke="#3a3a3a" stroke-width="1.0" />
<path d="M462.60,439.30 L480.60,436.00 L480.60,442.60 Z" fill="#000"/>
<text x="483.80" y="436.60" font-size="25">G</text>
<text x="507.00" y="423.50" font-size="14"><tspan fill="transparent">1</tspan></text>
<path d="M8.6,-17.9 L8.6,0 L6.35,0 L6.35,-13.9 Q4.6,-12.2 1.9,-11.1 L1.9,-13.2 Q5.2,-14.9 6.7,-17.9 Z" fill="#000" transform="translate(507.00,423.50) scale(0.560)"/>
<text x="515.50" y="436.80" font-size="25">/</text>
<text x="523.00" y="436.50" font-size="15">2</text>
<path d="M135,467 L505.7,467 M503.6,559 L134,559" stroke="#000" stroke-width="1.9" fill="none" stroke-linejoin="round" />
<path d="M135,467 Q138,474 136.5,480 Q133,492 133.3,505 Q134.5,518 134,530 Q133,545 134,559" stroke="#000" stroke-width="1.0" fill="none" stroke-linejoin="round" />
<path d="M505.7,467 Q499,476 497,490 Q495,505 494,515 Q497,525 499,535 L503.6,559" stroke="#000" stroke-width="1.0" fill="none" stroke-linejoin="round" />
<rect x="205.80" y="467.00" width="4.40" height="58.50" rx="0" stroke="#000" stroke-width="0" fill="#2e2e2e" />
<rect x="207.40" y="467.00" width="1.20" height="58.50" rx="0" stroke="#000" stroke-width="0" fill="#6a6a6a" />
<rect x="205.80" y="553.00" width="4.40" height="6.00" rx="0" stroke="#000" stroke-width="0" fill="#2e2e2e" />
<rect x="207.40" y="553.00" width="1.20" height="6.00" rx="0" stroke="#000" stroke-width="0" fill="#6a6a6a" />
<rect x="298.00" y="467.00" width="3.10" height="92.00" rx="0" stroke="#000" stroke-width="0" fill="#454545" />
<rect x="299.20" y="467.00" width="1.00" height="92.00" rx="0" stroke="#000" stroke-width="0" fill="#777" />
<rect x="301.10" y="467.00" width="1.20" height="92.00" rx="0" stroke="#000" stroke-width="0" fill="#000" />
<rect x="390.80" y="467.00" width="1.80" height="92.00" rx="0" stroke="#000" stroke-width="0" fill="#000" />
<rect x="392.60" y="467.00" width="2.40" height="92.00" rx="0" stroke="#000" stroke-width="0" fill="#6a6a6a" />
<rect x="483.00" y="467.00" width="3.00" height="92.00" rx="0" stroke="#000" stroke-width="0" fill="#454545" />
<rect x="484.20" y="467.00" width="1.00" height="92.00" rx="0" stroke="#000" stroke-width="0" fill="#777" />
<rect x="486.00" y="467.00" width="1.20" height="92.00" rx="0" stroke="#000" stroke-width="0" fill="#000" />
<circle cx="160.8" cy="513" r="12" stroke="#000" stroke-width="1.9" fill="none"/>
<path d="M143.0,513 L178.60000000000002,513 M160.8,495.2 L160.8,530.8" stroke="#222" stroke-width="1" stroke-dasharray="10,3,1.6,3"/>
<circle cx="254.3" cy="513.3" r="6.7" stroke="#000" stroke-width="1.9" fill="none"/>
<path d="M244.3,513.3 L264.3,513.3 M254.3,503.29999999999995 L254.3,523.3" stroke="#222" stroke-width="1" stroke-dasharray="5,2.5,1,2.5"/>
<circle cx="368.5" cy="513.3" r="9" stroke="#000" stroke-width="1.9" fill="none"/>
<path d="M355.0,513.3 L382.0,513.3 M368.5,499.79999999999995 L368.5,526.8" stroke="#222" stroke-width="1" stroke-dasharray="7,3,1.4,3"/>
<circle cx="461.5" cy="513.2" r="11.25" stroke="#000" stroke-width="1.9" fill="none"/>
<path d="M441.0,513.2 L482.0,513.2 M461.5,492.70000000000005 L461.5,533.7" stroke="#222" stroke-width="1" stroke-dasharray="11,3.5,2,3.5"/>
<text x="82.30" y="415.80" font-size="25">Ø40</text>
<line x1="82.50" y1="420.00" x2="149.20" y2="420.00" stroke="#3a3a3a" stroke-width="1.0" />
<path d="M149.20,420.00 L131.20,423.30 L131.20,416.70 Z" fill="#000"/>
<line x1="149.20" y1="410.50" x2="149.20" y2="513.00" stroke="#3a3a3a" stroke-width="1.0" />
<line x1="173.30" y1="410.80" x2="173.30" y2="513.00" stroke="#3a3a3a" stroke-width="1.0" />
<line x1="173.30" y1="420.00" x2="209.00" y2="420.00" stroke="#3a3a3a" stroke-width="1.0" />
<path d="M173.30,420.00 L191.30,416.70 L191.30,423.30 Z" fill="#000"/>
<line x1="244.50" y1="443.00" x2="244.50" y2="516.00" stroke="#3a3a3a" stroke-width="1.0" />
<line x1="254.30" y1="443.00" x2="254.30" y2="506.00" stroke="#3a3a3a" stroke-width="1.0" />
<line x1="208.30" y1="453.00" x2="244.50" y2="453.00" stroke="#3a3a3a" stroke-width="1.0" />
<path d="M244.50,453.00 L226.50,456.30 L226.50,449.70 Z" fill="#000"/>
<line x1="254.30" y1="453.00" x2="302.70" y2="453.00" stroke="#3a3a3a" stroke-width="1.0" />
<path d="M254.30,453.00 L272.30,449.70 L272.30,456.30 Z" fill="#000"/>
<text x="273.20" y="449.00" font-size="25"><tspan fill="transparent">1</tspan>6</text>
<path d="M8.6,-17.9 L8.6,0 L6.35,0 L6.35,-13.9 Q4.6,-12.2 1.9,-11.1 L1.9,-13.2 Q5.2,-14.9 6.7,-17.9 Z" fill="#000" transform="translate(273.20,449.00) scale(1.000)"/>
<text x="291.80" y="416.30" font-size="25">Ø30</text>
<line x1="290.70" y1="420.00" x2="359.50" y2="420.00" stroke="#3a3a3a" stroke-width="1.0" />
<path d="M359.50,420.00 L341.50,423.30 L341.50,416.70 Z" fill="#000"/>
<line x1="359.50" y1="410.70" x2="359.50" y2="513.00" stroke="#3a3a3a" stroke-width="1.0" />
<line x1="377.30" y1="410.70" x2="377.30" y2="513.00" stroke="#3a3a3a" stroke-width="1.0" />
<line x1="377.30" y1="420.00" x2="413.30" y2="420.00" stroke="#3a3a3a" stroke-width="1.0" />
<path d="M377.30,420.00 L395.30,416.70 L395.30,423.30 Z" fill="#000"/>
<line x1="230.70" y1="475.30" x2="230.70" y2="511.30" stroke="#3a3a3a" stroke-width="1.0" />
<path d="M230.70,511.30 L227.40,494.30 L234.00,494.30 Z" fill="#000"/>
<line x1="230.70" y1="515.30" x2="230.70" y2="550.00" stroke="#3a3a3a" stroke-width="1.0" />
<path d="M230.70,515.30 L234.00,532.30 L227.40,532.30 Z" fill="#000"/>
<line x1="193.00" y1="550.00" x2="230.70" y2="550.00" stroke="#3a3a3a" stroke-width="1.0" />
<line x1="221.30" y1="511.30" x2="245.00" y2="511.30" stroke="#3a3a3a" stroke-width="1.0" />
<line x1="221.30" y1="515.30" x2="245.00" y2="515.30" stroke="#3a3a3a" stroke-width="1.0" />
<path d="M246.80,513.30 L240.80,515.50 L240.80,511.10 Z" fill="#000"/>
<text x="192.30" y="547.60" font-size="25">Ø4</text>
<line x1="247.50" y1="516.00" x2="247.50" y2="595.80" stroke="#3a3a3a" stroke-width="1.0" />
<line x1="261.30" y1="516.00" x2="261.30" y2="595.80" stroke="#3a3a3a" stroke-width="1.0" />
<line x1="180.00" y1="586.70" x2="247.50" y2="586.70" stroke="#3a3a3a" stroke-width="1.0" />
<path d="M247.50,586.70 L229.50,590.00 L229.50,583.40 Z" fill="#000"/>
<line x1="261.30" y1="586.70" x2="297.50" y2="586.70" stroke="#3a3a3a" stroke-width="1.0" />
<path d="M261.30,586.70 L279.30,583.40 L279.30,590.00 Z" fill="#000"/>
<text x="179.80" y="583.00" font-size="25">Ø23</text>
<line x1="450.00" y1="513.00" x2="450.00" y2="595.00" stroke="#3a3a3a" stroke-width="1.0" />
<line x1="472.60" y1="513.00" x2="472.60" y2="595.00" stroke="#3a3a3a" stroke-width="1.0" />
<line x1="413.75" y1="587.00" x2="450.00" y2="587.00" stroke="#3a3a3a" stroke-width="1.0" />
<path d="M450.00,587.00 L432.00,590.30 L432.00,583.70 Z" fill="#000"/>
<line x1="472.60" y1="587.00" x2="541.00" y2="587.00" stroke="#3a3a3a" stroke-width="1.0" />
<path d="M472.60,587.00 L490.60,583.70 L490.60,590.30 Z" fill="#000"/>
<text x="494.00" y="583.50" font-size="25">Ø40</text>
<path d="M163.00,211.50 L181.00,208.20 L181.00,214.80 Z" fill="#000"/>
<line x1="232.00" y1="211.40" x2="254.00" y2="211.40" stroke="#3a3a3a" stroke-width="1.0" />
<path d="M254.00,211.40 L236.00,214.70 L236.00,208.10 Z" fill="#000"/>
<path d="M369.20,211.30 L387.20,208.00 L387.20,214.60 Z" fill="#000"/>
<path d="M461.60,211.40 L443.60,214.70 L443.60,208.10 Z" fill="#000"/>
<line x1="254.30" y1="199.00" x2="254.30" y2="229.00" stroke="#333" stroke-width="0.9" />
</svg>
</body></html>
